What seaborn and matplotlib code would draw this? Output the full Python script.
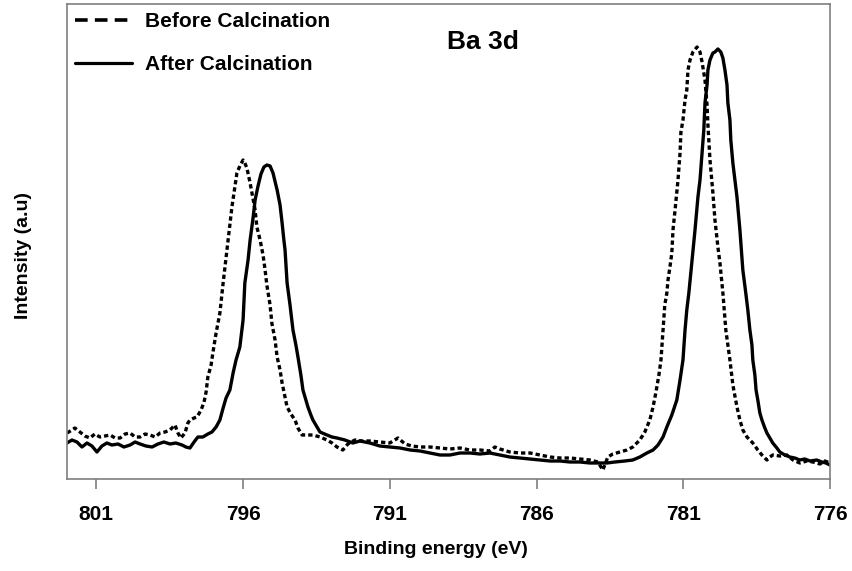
import numpy as np
import pandas as pd
import matplotlib
matplotlib.use("Agg")
import matplotlib.pyplot as plt
from matplotlib.lines import Line2D
import seaborn as sns

# ---------------- data ----------------
after_energy = [
    802.00, 801.83, 801.66, 801.49, 801.32, 801.15, 800.98, 800.81, 800.64, 800.47,
    800.26, 800.06, 799.85, 799.68, 799.51, 799.31, 799.10, 798.90, 798.70, 798.49,
    798.29, 798.08, 797.95, 797.81, 797.67, 797.54, 797.37, 797.20, 797.06, 796.92,
    796.79, 796.68, 796.58, 796.45, 796.34, 796.24, 796.11, 796.00, 795.94, 795.83,
    795.76, 795.66, 795.59, 795.49, 795.39, 795.29, 795.19, 795.08, 794.98, 794.84,
    794.74, 794.67, 794.61, 794.57, 794.50, 794.40, 794.30, 794.20, 794.13, 794.03,
    793.96, 793.86, 793.79, 793.69, 793.62, 793.48, 793.38, 793.14, 792.97, 792.80,
    792.53, 792.26, 792.02, 791.68, 791.34, 791.00, 790.65, 790.31, 789.97, 789.63,
    789.29, 788.95, 788.61, 788.27, 787.93, 787.59, 787.25, 786.91, 786.57, 786.22,
    785.88, 785.54, 785.20, 784.86, 784.52, 784.18, 783.84, 783.60, 783.33, 782.99,
    782.72, 782.48, 782.24, 782.03, 781.86, 781.69, 781.56, 781.39, 781.22, 781.11,
    781.01, 780.94, 780.88, 780.81, 780.70, 780.60, 780.50, 780.43, 780.36, 780.30,
    780.26, 780.19, 780.16, 780.09, 779.99, 779.92, 779.82, 779.72, 779.65, 779.58,
    779.51, 779.48, 779.41, 779.38, 779.31, 779.24, 779.17, 779.07, 778.97, 778.87,
    778.80, 778.73, 778.66, 778.63, 778.56, 778.52, 778.46, 778.39, 778.32, 778.22,
    778.15, 778.05, 777.95, 777.81, 777.71, 777.54, 777.37, 777.20, 777.03, 776.86,
    776.68, 776.45, 776.28, 776.14, 776.00,
]
after_intensity = [
    36, 39, 37, 32, 36, 33, 27, 33, 36, 34,
    35, 32, 34, 37, 35, 33, 32, 35, 37, 35,
    36, 34, 32, 31, 37, 42, 42, 45, 47, 52,
    59, 71, 81, 89, 106, 119, 132, 159, 196, 219,
    239, 261, 279, 293, 305, 312, 314, 313, 306, 289,
    274, 256, 239, 229, 196, 174, 149, 134, 122, 104,
    89, 79, 72, 64, 59, 52, 47, 44, 42, 41,
    39, 36, 38, 36, 33, 32, 31, 29, 28, 26,
    24, 24, 26, 26, 25, 26, 24, 22, 21, 20,
    19, 18, 18, 17, 17, 16, 16, 16, 17, 18,
    19, 22, 26, 29, 34, 42, 52, 64, 79, 99,
    119, 149, 169, 186, 219, 249, 282, 299, 326, 349,
    376, 394, 409, 419, 426, 427, 430, 427, 421, 409,
    394, 376, 359, 339, 316, 299, 282, 249, 209, 186,
    169, 149, 134, 119, 104, 89, 79, 66, 59, 51,
    46, 41, 36, 31, 27, 24, 22, 21, 19, 20,
    18, 19, 17, 16, 14,
]

before_energy = [
    802.00, 801.83, 801.73, 801.56, 801.39, 801.22, 801.05, 800.88, 800.71, 800.53,
    800.36, 800.19, 800.02, 799.85, 799.68, 799.51, 799.34, 799.17, 799.00, 798.83,
    798.66, 798.49, 798.32, 798.22, 798.12, 797.98, 797.88, 797.81, 797.67, 797.57,
    797.43, 797.33, 797.26, 797.20, 797.09, 797.03, 796.92, 796.79, 796.68, 796.55,
    796.38, 796.21, 796.11, 796.00, 795.94, 795.87, 795.76, 795.59, 795.53, 795.42,
    795.32, 795.25, 795.19, 795.08, 795.02, 794.91, 794.84, 794.74, 794.67, 794.57,
    794.50, 794.37, 794.23, 794.13, 793.99, 793.82, 793.62, 793.38, 793.14, 792.97,
    792.80, 792.60, 792.43, 792.19, 791.95, 791.68, 791.34, 791.00, 790.72, 790.48,
    790.25, 789.97, 789.63, 789.29, 788.95, 788.61, 788.27, 787.93, 787.59, 787.42,
    787.25, 786.91, 786.57, 786.22, 785.88, 785.54, 785.20, 784.86, 784.52, 784.18,
    783.91, 783.74, 783.57, 783.40, 783.16, 782.92, 782.72, 782.48, 782.31, 782.14,
    782.03, 781.93, 781.83, 781.76, 781.69, 781.63, 781.56, 781.52, 781.45, 781.39,
    781.35, 781.28, 781.18, 781.11, 781.08, 781.01, 780.94, 780.88, 780.84, 780.77,
    780.67, 780.53, 780.43, 780.36, 780.26, 780.19, 780.16, 780.09, 779.99, 779.92,
    779.82, 779.75, 779.65, 779.55, 779.41, 779.31, 779.17, 779.07, 778.97, 778.83,
    778.73, 778.63, 778.46, 778.32, 778.15, 778.05, 777.95, 777.71, 777.47, 777.26,
    777.03, 776.79, 776.58, 776.34, 776.17, 776.00,
]
before_intensity = [
    46, 49, 51, 47, 43, 41, 45, 42, 43, 44,
    41, 41, 45, 46, 42, 42, 45, 44, 42, 46,
    47, 49, 54, 46, 41, 46, 56, 59, 61, 62,
    69, 77, 87, 102, 114, 126, 146, 166, 196, 229,
    272, 306, 313, 319, 316, 311, 296, 269, 252, 239,
    224, 209, 194, 174, 156, 139, 122, 109, 96, 82,
    72, 65, 59, 51, 44, 44, 44, 42, 39, 36,
    32, 29, 35, 39, 38, 38, 37, 36, 41, 35,
    33, 32, 32, 31, 30, 31, 29, 29, 28, 32,
    30, 27, 26, 26, 24, 22, 21, 21, 20, 19,
    17, 9, 22, 25, 27, 29, 32, 39, 47, 59,
    72, 87, 104, 119, 149, 174, 186, 199, 213, 226,
    249, 269, 299, 326, 347, 359, 379, 389, 409, 419,
    427, 432, 427, 417, 399, 374, 354, 319, 286, 259,
    232, 216, 186, 149, 119, 94, 72, 59, 49, 42,
    39, 36, 29, 24, 19, 22, 24, 23, 24, 19,
    16, 18, 17, 15, 18, 16,
]

series_labels = ["Before Calcination", "After Calcination"]
x_ticks = [801, 796, 791, 786, 781, 776]

# ---------------- figure ----------------
sns.set_style("white")
plt.rcParams["font.family"] = ["Liberation Sans", "DejaVu Sans"]
plt.rcParams["font.weight"] = "bold"
plt.rcParams["text.color"] = "black"
plt.rcParams["axes.labelcolor"] = "black"
plt.rcParams["xtick.color"] = "black"

df = pd.concat([
    pd.DataFrame({"energy": before_energy, "intensity": before_intensity,
                  "sample": series_labels[0]}),
    pd.DataFrame({"energy": after_energy, "intensity": after_intensity,
                  "sample": series_labels[1]}),
], ignore_index=True)

fig = plt.figure(figsize=(8.53, 5.71), dpi=100)
ax = fig.add_axes([67 / 853, 92 / 571, 763 / 853, 475 / 571])

sns.lineplot(data=df, x="energy", y="intensity", style="sample",
             dashes={series_labels[0]: (1.3, 0.9), series_labels[1]: ""},
             color="black", linewidth=2.4, estimator=None, sort=False,
             legend=False, ax=ax)

ax.set_xlim(802, 776)
ax.set_ylim(0, 475)
ax.set_xticks(x_ticks)
ax.set_xticklabels([str(t) for t in x_ticks], fontsize=15, fontweight="bold",
                   color="black")
ax.set_yticks([])

for sp in ax.spines.values():
    sp.set_visible(True)
    sp.set_color("#7f7f7f")
    sp.set_linewidth(1.2)
ax.tick_params(axis="x", direction="out", length=7, width=1.2,
               color="#7f7f7f", pad=12, labelcolor="black", bottom=True)

ax.set_xlabel("Binding energy (eV)", fontsize=14, fontweight="bold", color="black")
ax.xaxis.set_label_coords(0.484, -0.13)
ax.set_ylabel("Intensity (a.u)", fontsize=14, fontweight="bold", color="black")
ax.yaxis.set_label_coords(-0.046, 0.47)

ax.text(0.545, 0.92, "Ba 3d", transform=ax.transAxes, ha="center", va="center",
        fontsize=19, fontweight="bold", color="black")

handles = [Line2D([], [], color="black", lw=2.6, ls=(0, (3.5, 2.0))),
           Line2D([], [], color="black", lw=2.3, ls="-")]
leg = ax.legend(handles, series_labels, loc="upper left", bbox_to_anchor=(0, 1),
                frameon=False, borderaxespad=0.0, borderpad=0.38, handlelength=2.75,
                handletextpad=0.6, labelspacing=1.15,
                prop={"size": 15, "weight": "bold"})
for t in leg.get_texts():
    t.set_color("black")

fig.savefig("out.png", dpi=100)
